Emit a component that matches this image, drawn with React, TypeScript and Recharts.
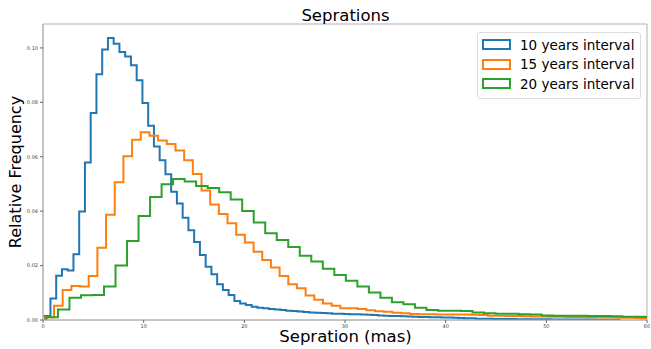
import React from 'react';
import { LineChart, Line, XAxis, YAxis, Legend, ReferenceArea } from 'recharts';

// histogram bins: each series has its own bin start / width (100 bins over the data range)
const blueStart = 0.17;
const blueWidth = 0.571;
const orangeStart = 0.23;
const orangeWidth = 0.862;
const greenStart = 0.34;
const greenWidth = 1.144;

const blueValues = [
	0.0015, 0.0079, 0.0163, 0.0187, 0.0182, 0.0242, 0.0399, 0.0579, 0.0761, 0.0903,
	0.0994, 0.1037, 0.1015, 0.0985, 0.0969, 0.0936, 0.0881, 0.0798, 0.0714, 0.0638,
	0.0587, 0.0536, 0.0471, 0.0428, 0.0376, 0.033, 0.0287, 0.0239, 0.0196, 0.0168,
	0.0131, 0.011, 0.0092, 0.007, 0.0061, 0.0055, 0.0049, 0.0045, 0.0043, 0.004,
	0.0039, 0.0037, 0.0034, 0.0033, 0.0031, 0.0029, 0.0028, 0.0027, 0.0026, 0.0025,
	0.0023, 0.0023, 0.0022, 0.0021, 0.0021, 0.002, 0.0019, 0.0018, 0.0017, 0.0016,
	0.0015, 0.0015, 0.0014, 0.0013, 0.0012, 0.0011, 0.0011, 0.001, 0.001, 0.0009,
	0.0009, 0.0008, 0.0007, 0.0006, 0.0006, 0.0005, 0.0005, 0.0005, 0.0004, 0.0004,
	0.0004, 0.0004, 0.0003, 0.0003, 0.0003, 0.0003, 0.0003, 0.0003, 0.0002, 0.0002,
	0.0002, 0.0002, 0.0002, 0.0002, 0.0002, 0.0002, 0.0001, 0.0001, 0.0001, 0.0001,
];

const orangeValues = [
	0.001, 0.0052, 0.011, 0.0125, 0.0123, 0.0162, 0.0266, 0.0387, 0.0506, 0.0602,
	0.0663, 0.069, 0.0677, 0.066, 0.0647, 0.0623, 0.0587, 0.0537, 0.0476, 0.0425,
	0.039, 0.0356, 0.0313, 0.0285, 0.0251, 0.0221, 0.0193, 0.0162, 0.0131, 0.0117,
	0.009, 0.0074, 0.0061, 0.0052, 0.0043, 0.0043, 0.004, 0.0036, 0.0032, 0.003,
	0.0027, 0.0025, 0.0022, 0.0021, 0.0021, 0.002, 0.002, 0.002, 0.002, 0.0019,
	0.0018, 0.0016, 0.0016, 0.0015, 0.0015, 0.0014, 0.0013, 0.0013, 0.0012, 0.0012,
	0.0011, 0.0011, 0.001, 0.001, 0.0009, 0.0009, 0.0008, 0.0008, 0.0007, 0.0007,
];

const greenValues = [
	0.001, 0.0039, 0.0082, 0.0091, 0.0092, 0.0123, 0.02, 0.029, 0.0382, 0.0452,
	0.0499, 0.0518, 0.0509, 0.0493, 0.0485, 0.047, 0.0443, 0.0401, 0.0358, 0.0319,
	0.0294, 0.0268, 0.0236, 0.0215, 0.0188, 0.0165, 0.0144, 0.0123, 0.0101, 0.0082,
	0.0065, 0.0058, 0.0045, 0.0037, 0.0034, 0.0034, 0.0033, 0.0028, 0.0025, 0.0023,
	0.0023, 0.0021, 0.002, 0.0017, 0.0016, 0.0016, 0.0016, 0.0015, 0.0015, 0.0014,
	0.0012, 0.0012, 0.0011,
];

const seriesNames = ['10 years interval', '15 years interval', '20 years interval'];
const colors = ['#1f77b4', '#ff7f0e', '#2ca02c'];
const xTicks = [0, 10, 20, 30, 40, 50, 60];
const yTicks = [0, 0.02, 0.04, 0.06, 0.08, 0.1];
const yMax = 0.1088;

// step outline like matplotlib histtype='step'
const toSteps = (start: number, width: number, values: number[]) => {
	const pts = [{ x: start, y: 0 }];
	values.forEach((v, i) => pts.push({ x: start + i * width, y: v }));
	const end = start + values.length * width;
	pts.push({ x: end, y: values[values.length - 1] });
	pts.push({ x: end, y: 0 });
	return pts;
};

const series = [
	toSteps(blueStart, blueWidth, blueValues),
	toSteps(orangeStart, orangeWidth, orangeValues),
	toSteps(greenStart, greenWidth, greenValues),
];

const font = '"DejaVu Sans", sans-serif';

const LegendBox = () => (
	<div
		style={{
			border: '1px solid #ddd',
			borderRadius: 3,
			background: '#fff',
			padding: '2px 6px 4px 4px',
			fontFamily: font,
			fontSize: 13.5,
			color: '#000',
		}}
	>
		{seriesNames.map((name, i) => (
			<div key={name} style={{ display: 'flex', alignItems: 'center', height: 19.5 }}>
				<svg width={29} height={11} style={{ marginRight: 9, display: 'block' }}>
					<rect x={1} y={1} width={27} height={9} fill='none' stroke={colors[i]} strokeWidth={2} />
				</svg>
				<span>{name}</span>
			</div>
		))}
	</div>
);

const App = () => {
	return (
		<div style={{ position: 'absolute', left: 0, top: 0 }}>
			<div style={{ position: 'relative', width: 651, height: 349, background: '#fff', fontFamily: font }}>
				<LineChart
					width={651}
					height={349}
					margin={{ top: 24, right: 4, bottom: 0, left: 0 }}
				>
					<XAxis
						type='number'
						dataKey='x'
						domain={[0, 60]}
						ticks={xTicks}
						allowDataOverflow
						height={29}
						tickSize={3}
						tickMargin={1}
						stroke='#b0b0b0'
						tick={{ fontSize: 5, fill: '#444', fontFamily: font }}
						tickLine={{ stroke: '#666' }}
					/>
					<YAxis
						type='number'
						domain={[0, yMax]}
						ticks={yTicks}
						allowDataOverflow
						width={43}
						tickSize={3}
						tickMargin={2}
						stroke='#b0b0b0'
						tickFormatter={(t: number) => t.toFixed(2)}
						tick={{ fontSize: 5, fill: '#444', fontFamily: font }}
						tickLine={{ stroke: '#666' }}
					/>
					<ReferenceArea x1={0} x2={60} y1={0} y2={yMax} fill='none' stroke='#b0b0b0' strokeWidth={1} />
					{series.map((pts, i) => (
						<Line
							key={seriesNames[i]}
							data={pts}
							dataKey='y'
							name={seriesNames[i]}
							type='stepAfter'
							stroke={colors[i]}
							strokeWidth={2}
							dot={false}
							activeDot={false}
							isAnimationActive={false}
						/>
					))}
					<Legend
						layout='horizontal'
						verticalAlign='middle'
						align='center'
						content={() => <LegendBox />}
						wrapperStyle={{ left: 477, top: 32, width: 'auto', height: 'auto' }}
					/>
				</LineChart>
				<div
					style={{
						position: 'absolute',
						left: 43,
						width: 605,
						top: 8,
						textAlign: 'center',
						fontSize: 16.5,
						lineHeight: 1,
					}}
				>
					Seprations
				</div>
				<div
					style={{
						position: 'absolute',
						left: 43,
						width: 605,
						top: 329,
						textAlign: 'center',
						fontSize: 16.5,
						lineHeight: 1,
					}}
				>
					Sepration (mas)
				</div>
				<div
					style={{
						position: 'absolute',
						left: 16,
						top: 172,
						transform: 'translate(-50%, -50%) rotate(-90deg)',
						whiteSpace: 'nowrap',
						fontSize: 16,
						lineHeight: 1,
					}}
				>
					Relative Frequency
				</div>
			</div>
		</div>
	);
};

export default App;
